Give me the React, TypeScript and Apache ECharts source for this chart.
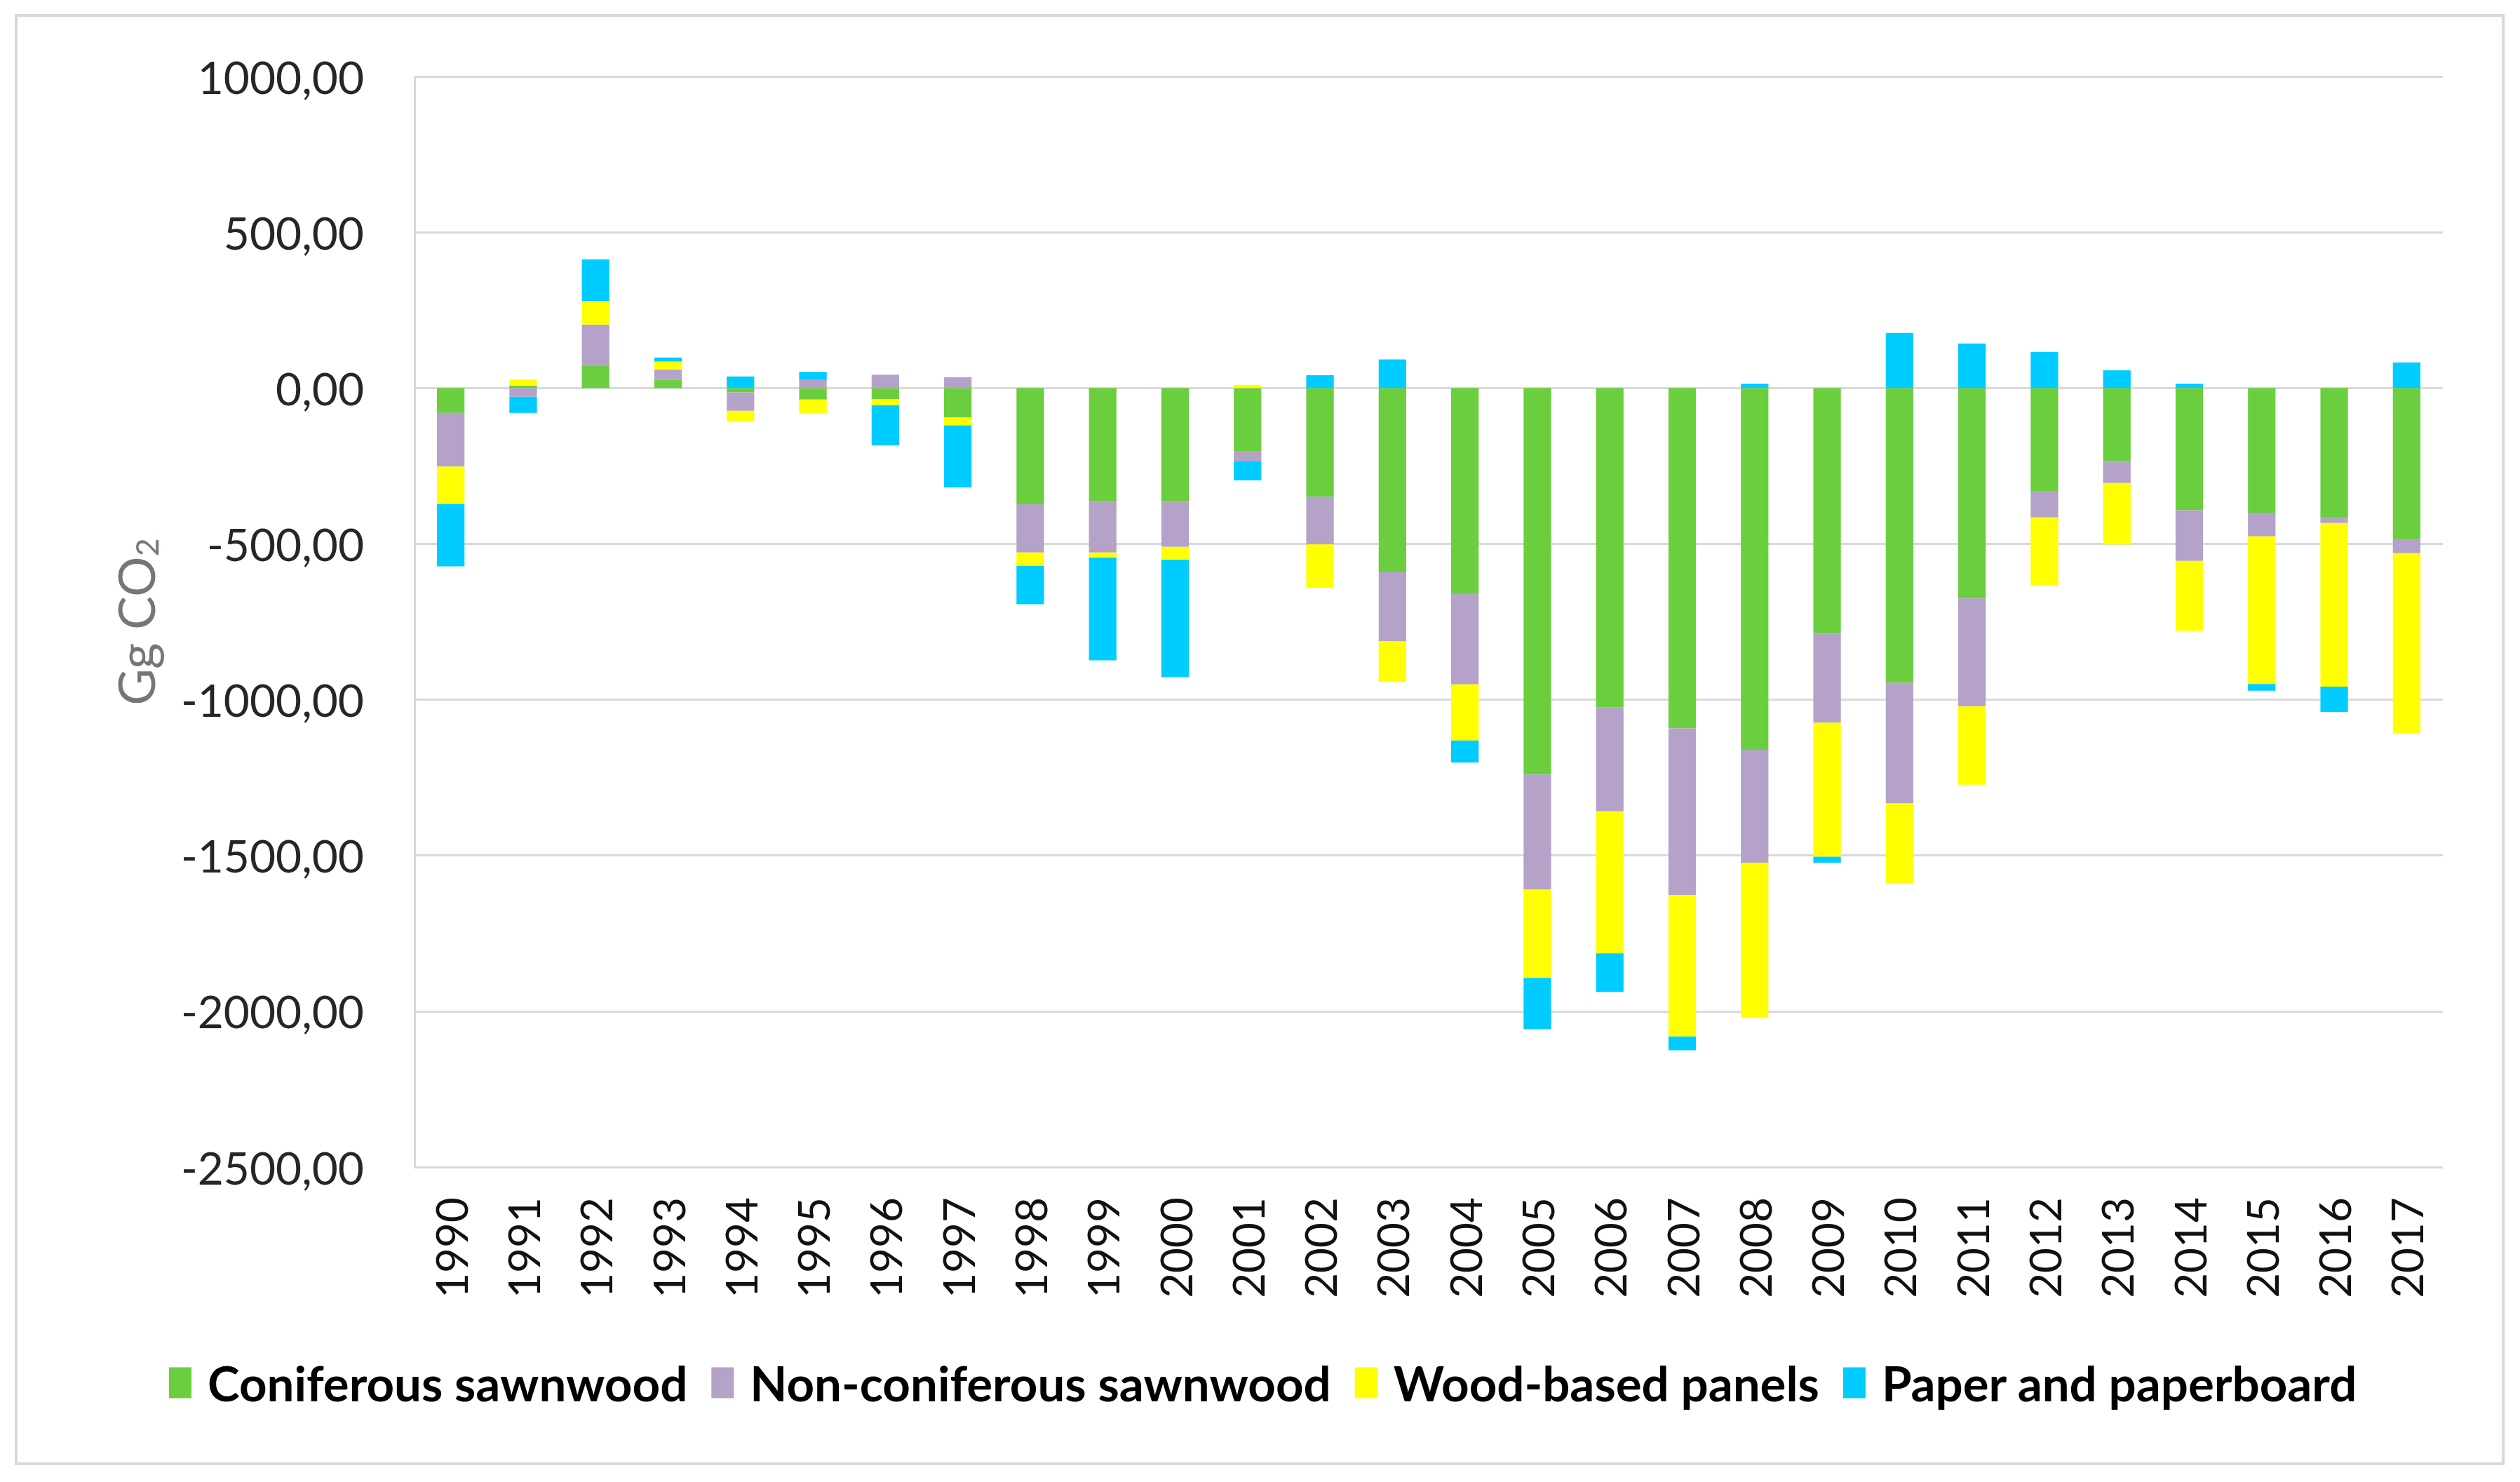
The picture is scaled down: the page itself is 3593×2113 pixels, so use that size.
import { useEffect, useRef } from 'react'
import * as echarts from 'echarts'

// Years on the category axis
const years = [
  '1990', '1991', '1992', '1993', '1994', '1995', '1996', '1997', '1998', '1999',
  '2000', '2001', '2002', '2003', '2004', '2005', '2006', '2007', '2008', '2009',
  '2010', '2011', '2012', '2013', '2014', '2015', '2016', '2017'
]

// Gg CO2 per product category
const coniferous = [
  -80, 8, 74, 26, -14, -37, -36, -94, -373, -365,
  -365, -202, -349, -589, -659, -1240, -1024, -1092, -1161, -788,
  -946, -675, -330, -235, -392, -400, -417, -487
]
const nonConiferous = [
  -172, -28, 130, 34, -59, 26, 43, 35, -155, -163,
  -145, -32, -153, -224, -292, -369, -334, -535, -362, -286,
  -387, -347, -85, -70, -163, -76, -16, -43
]
const woodPanels = [
  -120, 19, 76, 25, -34, -44, -19, -26, -43, -16,
  -41, 10, -139, -130, -180, -284, -456, -454, -498, -430,
  -256, -251, -218, -197, -224, -474, -525, -578
]
const paper = [
  -200, -52, 133, 13, 37, 26, -129, -199, -123, -330,
  -376, -62, 41, 92, -71, -164, -124, -44, 14, -19,
  177, 143, 116, 57, 14, -21, -81, 82
]

const seriesNames = ['Coniferous sawnwood', 'Non-coniferous sawnwood', 'Wood-based panels', 'Paper and paperboard']
const seriesColors = ['#6bce3f', '#b5a2c8', '#ffff00', '#00ccff']

const FONT = 'Lato, "Open Sans", sans-serif'

export default function App() {
  const chartRef = useRef<HTMLDivElement>(null)

  useEffect(() => {
    if (!chartRef.current) return
    const chart = echarts.init(chartRef.current, undefined, { renderer: 'svg' })

    const seriesData = [coniferous, nonConiferous, woodPanels, paper]

    const option: echarts.EChartsOption = {
      animation: false,
      backgroundColor: '#ffffff',
      textStyle: { fontFamily: FONT },
      graphic: [
        {
          type: 'rect',
          shape: { x: 23, y: 22, width: 3546, height: 2065 },
          style: { fill: 'none', stroke: '#d9d9d9', lineWidth: 4 },
          silent: true
        }
      ],
      grid: {
        left: 591,
        right: 110,
        top: 109,
        bottom: 449,
        containLabel: false
      },
      legend: {
        data: seriesNames,
        left: 236,
        top: 1932,
        icon: 'rect',
        itemWidth: 32,
        itemHeight: 44,
        itemGap: 34,
        textStyle: {
          fontFamily: FONT,
          fontSize: 69,
          fontWeight: 'bold',
          color: '#000000',
          padding: [0, 0, 0, 18]
        }
      },
      xAxis: {
        type: 'category',
        data: years,
        axisLine: { show: false, onZero: false },
        axisTick: { show: false },
        axisLabel: {
          rotate: 90,
          margin: 43,
          fontSize: 62,
          fontFamily: FONT,
          color: '#111111'
        }
      },
      yAxis: {
        type: 'value',
        min: -2500,
        max: 1000,
        interval: 500,
        name: '{a|Gg CO}{b|2}',
        nameLocation: 'middle',
        nameRotate: 90,
        nameGap: 360,
        nameTextStyle: {
          color: '#767676',
          fontFamily: FONT,
          fontSize: 72,
          rich: {
            a: { fontSize: 72, fontFamily: FONT, color: '#767676' },
            b: { fontSize: 45, fontFamily: FONT, color: '#767676', padding: [32, 0, 0, 0] }
          }
        },
        axisLine: { show: true, lineStyle: { color: '#d9d9d9', width: 3 } },
        axisTick: { show: false },
        splitLine: { lineStyle: { color: '#d9d9d9', width: 3 } },
        axisLabel: {
          margin: 72,
          fontSize: 64,
          fontFamily: FONT,
          color: '#262626',
          formatter: (value: number) => value.toFixed(2).replace('.', ',')
        }
      },
      series: seriesNames.map((name, i) => ({
        name,
        type: 'bar' as const,
        stack: 'total',
        barWidth: '38%',
        data: seriesData[i],
        itemStyle: { color: seriesColors[i] }
      }))
    }

    chart.setOption(option)

    return () => {
      chart.dispose()
    }
  }, [])

  return (
    <div
      ref={chartRef}
      style={{ position: 'absolute', left: 0, top: 0, width: '3593px', height: '2113px', background: '#fff' }}
    />
  )
}
